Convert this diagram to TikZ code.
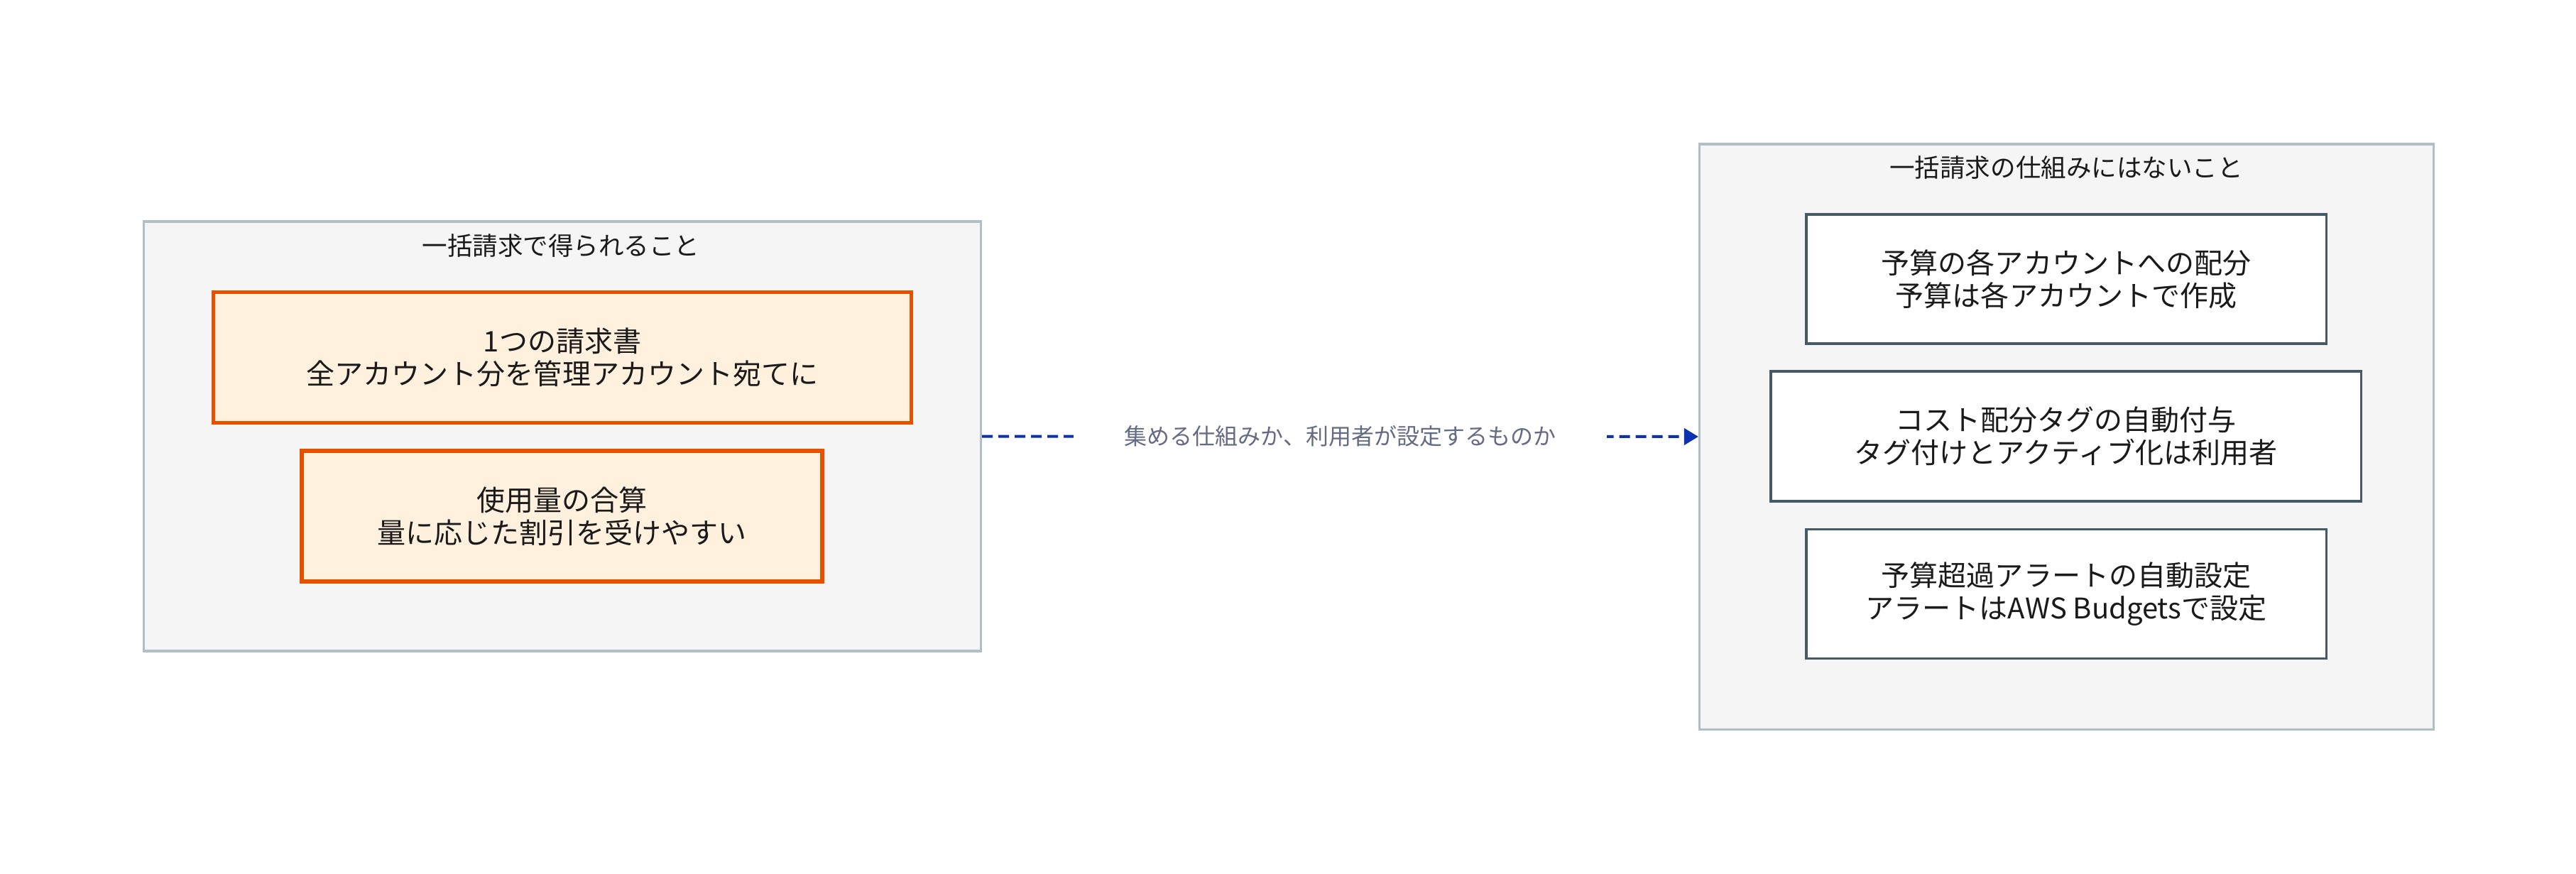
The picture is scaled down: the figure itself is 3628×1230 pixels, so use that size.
\documentclass[tikz,border=0pt]{standalone}
\usepackage{fontspec}
\setmainfont{Noto Sans CJK JP}
\usetikzlibrary{arrows.meta}

\definecolor{groupfill}{HTML}{F5F5F5}
\definecolor{groupline}{HTML}{B0BEC5}
\definecolor{gainline}{HTML}{E65100}
\definecolor{gainfill}{HTML}{FFF1DE}
\definecolor{lackline}{HTML}{455A64}
\definecolor{linkblue}{HTML}{0B32B0}
\definecolor{linktext}{HTML}{646B82}
\definecolor{bodytext}{HTML}{1A1A1A}

\tikzset{
  groupbox/.style={draw=groupline, fill=groupfill, line width=0.035cm, inner sep=0pt},
  grouptitle/.style={text=bodytext, font=\fontsize{10.1pt}{12pt}\selectfont},
  gainbox/.style={draw=gainline, fill=gainfill, line width=0.055cm, minimum height=1.84cm,
    align=center, text=bodytext, font=\fontsize{11.38pt}{13.09pt}\selectfont},
  lackbox/.style={draw=lackline, fill=white, line width=0.035cm, minimum height=1.82cm,
    align=center, text=bodytext, font=\fontsize{11.38pt}{13.09pt}\selectfont},
  linklabel/.style={fill=white, text=linktext, inner xsep=0.72cm,
    font=\fontsize{9.1pt}{11pt}\selectfont}
}

\begin{document}
\begin{tikzpicture}[x=0.01cm, y=-0.01cm]
    \fill[white] (0,0) rectangle (3628,1230);
    \useasboundingbox (0,0) rectangle (3628,1230);

    % What consolidated billing gives
    \node[groupbox, minimum width=11.78cm, minimum height=6.05cm] (gain) at (792,614.5) {};
    \node[grouptitle] (gaintitle) at (790,346) {一括請求で得られること};
    \node[gainbox, minimum width=9.82cm] (invoice) at (792,503.5) {1つの請求書\\全アカウント分を管理アカウント宛てに};
    \node[gainbox, minimum width=7.33cm] (usage) at (791.5,727) {使用量の合算\\量に応じた割引を受けやすい};

    % What it does not provide
    \node[groupbox, minimum width=10.33cm, minimum height=8.24cm] (lack) at (2910.5,615) {};
    \node[grouptitle] (lacktitle) at (2910,236) {一括請求の仕組みにはないこと};
    \node[lackbox, minimum width=7.32cm] (budget) at (2910,393) {予算の各アカウントへの配分\\予算は各アカウントで作成};
    \node[lackbox, minimum width=8.31cm, minimum height=1.83cm] (costtag) at (2909.5,614.5) {コスト配分タグの自動付与\\タグ付けとアクティブ化は利用者};
    \node[lackbox, minimum width=7.32cm] (alert) at (2910,836.5) {予算超過アラートの自動設定\\アラートはAWS Budgetsで設定};

    % Link between the two groups
    \draw[linkblue, line width=0.04cm, dash pattern=on 0.15cm off 0.08cm,
          -{Triangle[length=0.2cm, width=0.23cm]}] (gain.east) -- (lack.west)
        node[linklabel, midway] (linkmid) {集める仕組みか、利用者が設定するものか};
\end{tikzpicture}
\end{document}
